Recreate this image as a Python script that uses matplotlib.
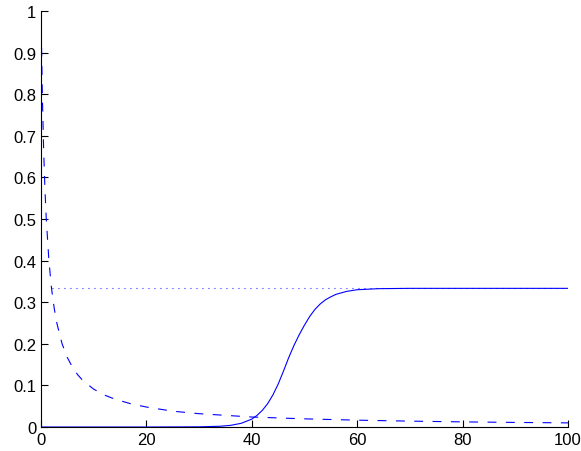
import matplotlib
matplotlib.use("Agg")
import matplotlib.pyplot as plt

# Dashed decaying curve
dash_x = [0, 0.25, 0.5, 0.75, 1, 1.5, 2, 2.5, 3, 4, 5, 6, 7, 8, 10, 12, 14, 17, 20, 25, 30, 35, 40, 50, 60, 70, 80, 90, 100]
dash_y = [1.0, 0.80, 0.667, 0.571, 0.50, 0.40, 0.333, 0.286, 0.25, 0.20, 0.167, 0.143, 0.125, 0.111, 0.091, 0.077, 0.067, 0.056, 0.048, 0.038, 0.032, 0.028, 0.024, 0.0196, 0.0164, 0.0141, 0.0123, 0.011, 0.0099]

# Solid sigmoid curve
solid_x = [0, 10, 20, 30, 34, 36, 38, 40, 41, 42, 43, 44, 45, 46, 47, 48, 49, 50, 51, 52, 53, 54, 55, 56, 58, 60, 64, 70, 100]
solid_y = [0, 0, 0, 0.0004, 0.0018, 0.004, 0.0089, 0.019, 0.028, 0.040, 0.056, 0.077, 0.103, 0.134, 0.1667, 0.196, 0.222, 0.245, 0.266, 0.283, 0.296, 0.306, 0.313, 0.319, 0.326, 0.330, 0.3325, 0.3333, 0.3333]

# Dotted horizontal level
dot_x = [2, 100]
dot_y = [0.3333, 0.3333]

xticks = [0, 20, 40, 60, 80, 100]
yticks = [0, 0.1, 0.2, 0.3, 0.4, 0.5, 0.6, 0.7, 0.8, 0.9, 1]
yticklabels = ["0", "0.1", "0.2", "0.3", "0.4", "0.5", "0.6", "0.7", "0.8", "0.9", "1"]

plt.rcParams['font.family'] = ['Liberation Sans', 'DejaVu Sans']

fig = plt.figure(figsize=(5.81, 4.52), dpi=100)
ax = fig.add_axes([41/581, 24/452, 527/581, 416/452])

blue = (0, 0, 1)
ax.plot(dash_x, dash_y, color=blue, lw=0.8, dashes=(8, 8.5))
ax.plot(solid_x, solid_y, color=blue, lw=0.8)
ax.plot(dot_x, dot_y, color=blue, lw=0.8, dashes=(0.8, 4.6))

ax.set_xlim(0, 100)
ax.set_ylim(0, 1)
ax.set_xticks(xticks)
ax.set_xticklabels([str(v) for v in xticks])
ax.set_yticks(yticks)
ax.set_yticklabels(yticklabels)
ax.spines['top'].set_visible(False)
ax.spines['right'].set_visible(False)
for s in ['left', 'bottom']:
    ax.spines[s].set_linewidth(0.8)
ax.tick_params(direction='in', length=5, width=0.8, labelsize=12, pad=3.5)

fig.savefig("out.png", dpi=100)
